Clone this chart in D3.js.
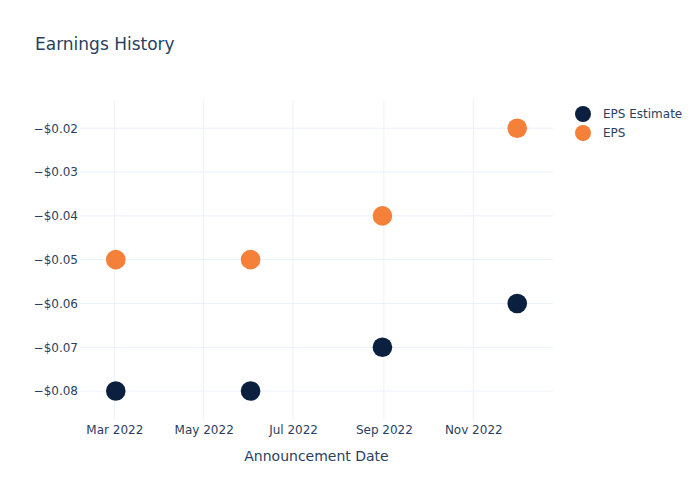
<!DOCTYPE html>
<html>
<head>
<meta charset="utf-8">
<script src="https://cdn.jsdelivr.net/npm/d3@7"></script>
<style>
  html, body { margin: 0; padding: 0; background: #fff; }
  svg { display: block; font-family: "DejaVu Sans", Verdana, sans-serif; }
</style>
</head>
<body>
<svg id="chart" width="700" height="500"></svg>
<script>
// ---- data ----
const dates = ["2022-03-02", "2022-06-02", "2022-08-31", "2022-12-01"];
const epsEstimate = [-0.08, -0.08, -0.07, -0.06];
const eps = [-0.05, -0.05, -0.04, -0.02];
const seriesNames = ["EPS Estimate", "EPS"];
const seriesColors = ["#0b1f3f", "#f5803a"];
const yTicks = [-0.08, -0.07, -0.06, -0.05, -0.04, -0.03, -0.02];
const titleText = "Earnings History";
const xTitle = "Announcement Date";

// ---- layout ----
const W = 700, H = 500;
const plot = { left: 80, right: 553, top: 100, bottom: 420 };
const textColor = "#2a3f5f";
const gridColor = "#ebf0f8";

const svg = d3.select("#chart");
const parse = d3.utcParse("%Y-%m-%d");

const x = d3.scaleUtc()
  .domain([new Date(Date.UTC(2022, 1, 5, 14)), new Date(Date.UTC(2022, 11, 25, 10))])
  .range([plot.left, plot.right]);
const y = d3.scaleLinear()
  .domain([-0.086613, -0.013546])
  .range([plot.bottom, plot.top]);

// grid
const xTickVals = x.ticks(d3.utcMonth.every(2));
svg.append("g").selectAll("line").data(xTickVals).join("line")
  .attr("x1", d => x(d)).attr("x2", d => x(d))
  .attr("y1", plot.top).attr("y2", plot.bottom)
  .attr("stroke", gridColor).attr("stroke-width", 1);
svg.append("g").selectAll("line").data(yTicks).join("line")
  .attr("x1", plot.left).attr("x2", plot.right)
  .attr("y1", d => y(d)).attr("y2", d => y(d))
  .attr("stroke", gridColor).attr("stroke-width", 1);

// x axis
const xAxis = d3.axisBottom(x)
  .tickValues(xTickVals)
  .tickFormat(d3.utcFormat("%b %Y"))
  .tickSize(0).tickPadding(5);
const gx = svg.append("g").attr("transform", `translate(0,${plot.bottom})`).call(xAxis);
gx.select(".domain").remove();
gx.selectAll("text").attr("fill", textColor).attr("font-size", 12)
  .attr("font-family", "DejaVu Sans, sans-serif");

// y axis
const yAxis = d3.axisLeft(y)
  .tickValues(yTicks)
  .tickFormat(d3.format("$.2f"))
  .tickSize(0).tickPadding(2);
const gy = svg.append("g").attr("transform", `translate(${plot.left},0)`).call(yAxis);
gy.select(".domain").remove();
gy.selectAll("text").attr("fill", textColor).attr("font-size", 12)
  .attr("font-family", "DejaVu Sans, sans-serif");

// points
const seriesData = [epsEstimate, eps];
seriesData.forEach((vals, si) => {
  svg.append("g").selectAll("circle")
    .data(vals.map((v, i) => ({ d: parse(dates[i]), v })))
    .join("circle")
    .attr("cx", p => x(p.d)).attr("cy", p => y(p.v))
    .attr("r", 9.8)
    .attr("fill", seriesColors[si]);
});

// title
svg.append("text").attr("x", 35).attr("y", 50)
  .attr("fill", textColor).attr("font-size", 17)
  .text(titleText);

// x axis title
svg.append("text").attr("x", (plot.left + plot.right) / 2).attr("y", 461)
  .attr("text-anchor", "middle").attr("fill", textColor).attr("font-size", 14)
  .text(xTitle);

// legend
const leg = svg.append("g");
seriesNames.forEach((name, i) => {
  const cy = 114 + i * 19;
  leg.append("circle").attr("cx", 583).attr("cy", cy).attr("r", 8)
    .attr("fill", seriesColors[i]);
  leg.append("text").attr("x", 603).attr("y", cy + 4.2)
    .attr("fill", textColor).attr("font-size", 12).text(name);
});
</script>
</body>
</html>
